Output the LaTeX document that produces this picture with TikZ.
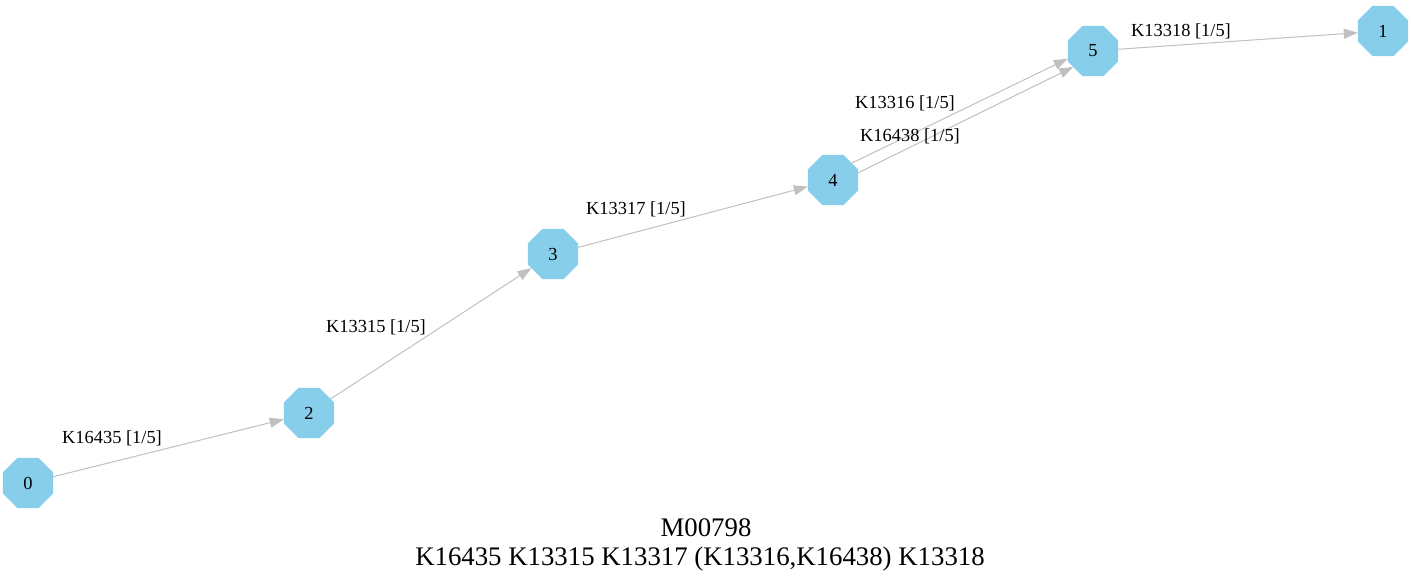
\documentclass[tikz,border=0pt]{standalone}
\usepackage{fontspec}
\setmainfont{Liberation Serif}
\usetikzlibrary{shapes.geometric,arrows.meta}
\definecolor{nodeblue}{HTML}{87CEEB}
\definecolor{edgegray}{HTML}{C0C0C0}
\tikzset{
  state/.style={regular polygon, regular polygon sides=8, fill=nodeblue, draw=nodeblue,
    minimum size=40.5pt, inner sep=0pt, font=\fontsize{13.8pt}{16pt}\selectfont},
  edge/.style={draw=edgegray, line width=0.75pt, -{Triangle[length=10.5pt,width=7.5pt]}},
  elabel/.style={inner sep=0pt, font=\fontsize{13.8pt}{16pt}\selectfont},
  ttl/.style={inner sep=0pt, font=\fontsize{20.1pt}{24pt}\selectfont}
}
\begin{document}
\begin{tikzpicture}[x=0.75pt,y=-0.75pt]
\useasboundingbox (0,0) rectangle (1412,584);
\node[state] (n0) at (28,483) {0};
\node[state] (n2) at (309,413) {2};
\node[state] (n3) at (553,254) {3};
\node[state] (n4) at (833,180) {4};
\node[state] (n5) at (1093,51) {5};
\node[state] (n1) at (1383,31) {1};
\draw[edge] (n0) -- (n2);
\draw[edge] (n2) -- (n3);
\draw[edge] (n3) -- (n4);
\draw[edge] (n4.42) -- (n5.197);
\draw[edge] (n4.16) -- (n5.219);
\draw[edge] (n5) -- (n1);
\node[elabel] (l1) at (112,438) {K16435 [1/5]};
\node[elabel] (l2) at (376,327) {K13315 [1/5]};
\node[elabel] (l3) at (636,209) {K13317 [1/5]};
\node[elabel] (l4) at (905,103) {K13316 [1/5]};
\node[elabel] (l5) at (910,136) {K16438 [1/5]};
\node[elabel] (l6) at (1181,31) {K13318 [1/5]};
\node[ttl] (t1) at (706,528) {M00798};
\node[ttl] (t2) at (700,559) {K16435 K13315 K13317 (K13316,K16438) K13318};
\end{tikzpicture}
\end{document}
